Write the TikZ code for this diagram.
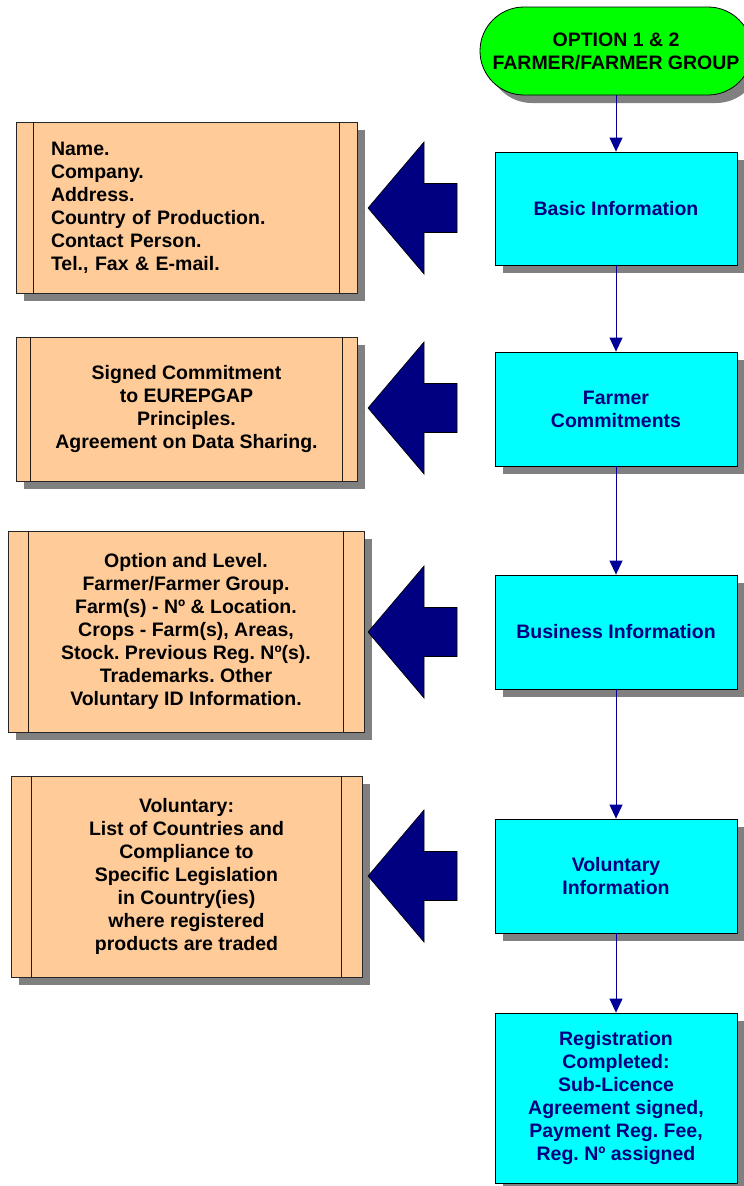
\documentclass[tikz,border=0pt]{standalone}
\usepackage{fontspec}
\setmainfont{Liberation Sans}
\usetikzlibrary{shadows,arrows.meta}
\definecolor{peach}{HTML}{FFCC99}
\definecolor{aqua}{HTML}{00FFFF}
\definecolor{lime}{HTML}{00FF00}
\definecolor{navyfill}{HTML}{000080}
\definecolor{linkblue}{HTML}{000099}
\definecolor{shade}{HTML}{808080}
\frenchspacing
\begin{document}
\begin{tikzpicture}[x=1pt,y=-1pt,
  shad/.style={drop shadow={shadow xshift=8pt,shadow yshift=-8pt,fill=shade,opacity=1}},
  txt/.style={font=\fontsize{19.5}{23}\selectfont\bfseries},
  infobox/.style={shad,draw=black!85,line width=0.8pt,fill=peach,txt,align=center,inner sep=0pt},
  stepbox/.style={shad,draw=black,line width=0.8pt,fill=aqua,txt,text=navyfill,align=center,inner sep=0pt,minimum width=242pt},
  startbox/.style={shad,draw=black,line width=0.8pt,fill=lime,txt,align=center,rounded corners=44pt,minimum width=272pt,minimum height=88pt,inner sep=0pt},
  link/.style={draw=linkblue,line width=1pt,-{Triangle[length=14pt,width=13pt]}},
  bigarrow/.style={fill=navyfill,draw=black,line width=0.6pt},
  divider/.style={draw=black!80!brown,line width=0.8pt}]
\useasboundingbox (0,0) rectangle (744,1186);
% right column
\node[startbox] (start) at (616,51) {OPTION 1 \& 2\\FARMER/FARMER GROUP};
\node[stepbox,minimum height=113pt] (basic) at (616,208.5) {Basic Information};
\node[stepbox,minimum height=114pt] (commit) at (616,409) {Farmer\\Commitments};
\node[stepbox,minimum height=114pt] (business) at (616,632) {Business Information};
\node[stepbox,minimum height=114pt] (volinfo) at (616,876) {Voluntary\\Information};
\node[stepbox,minimum height=170pt] (reg) at (616,1098) {Registration\\Completed:\\Sub-Licence\\Agreement signed,\\Payment Reg. Fee,\\Reg. Nº assigned};
\draw[link] (start) -- (basic);
\draw[link] (basic) -- (commit);
\draw[link] (commit) -- (business);
\draw[link] (business) -- (volinfo);
\draw[link] (volinfo) -- (reg);
% left column
\node[infobox,minimum width=341pt,minimum height=171pt,text width=271pt,inner xsep=35pt,align=left] (b1) at (186.5,207.5) {Name.\\Company.\\Address.\\Country of Production.\\Contact Person.\\Tel., Fax \& E-mail.};
\node[infobox,minimum width=341pt,minimum height=144pt] (b2) at (186.5,409) {Signed Commitment\\to EUREPGAP\\Principles.\\Agreement on Data Sharing.};
\node[infobox,minimum width=356pt,minimum height=201pt] (b3) at (186,631.5) {Option and Level.\\Farmer/Farmer Group.\\Farm(s) - Nº \& Location.\\Crops - Farm(s), Areas,\\Stock. Previous Reg. Nº(s).\\Trademarks. Other\\Voluntary ID Information.};
\node[infobox,minimum width=351pt,minimum height=201pt] (b4) at (186.5,876.5) {Voluntary:\\List of Countries and\\Compliance to\\Specific Legislation\\in Country(ies)\\where registered\\products are traded};
\foreach \b/\d in {b1/18,b2/15,b3/21,b4/21}{
  \draw[divider] ([xshift=\d pt]\b.north west) -- ([xshift=\d pt]\b.south west);
  \draw[divider] ([xshift=-\d pt]\b.north east) -- ([xshift=-\d pt]\b.south east);
}
% block arrows
\foreach \y [count=\i] in {208,408,632,876}{
  \coordinate (tip\i) at (368,\y);
  \draw[bigarrow] (tip\i) -- ++(56,-66) -- ++(0,41.5) -- ++(33,0) -- ++(0,49) -- ++(-33,0) -- ++(0,41.5) -- cycle;
}
\end{tikzpicture}
\end{document}
